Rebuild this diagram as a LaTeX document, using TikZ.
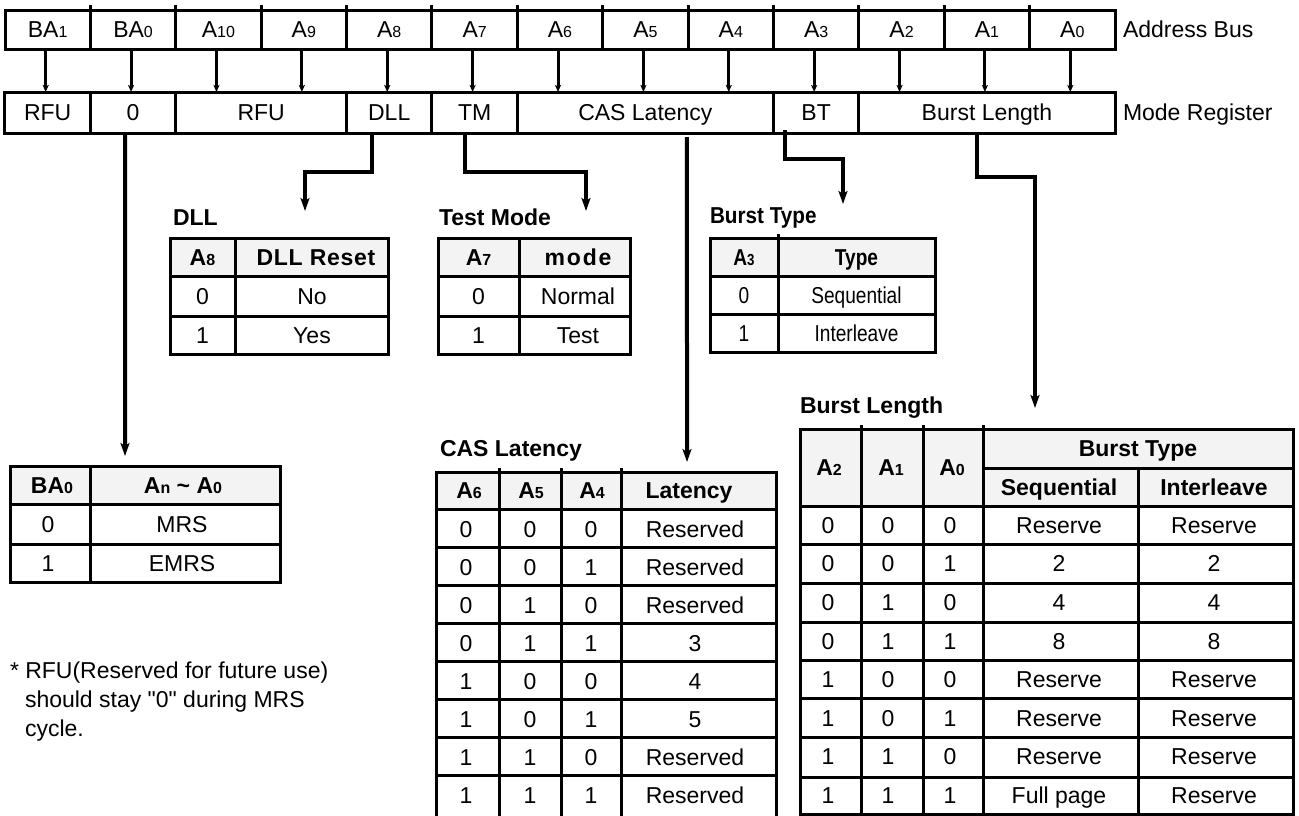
\documentclass[tikz,border=0pt]{standalone}
\usepackage{fontspec}
\setmainfont{Liberation Sans}[Ligatures=TeXOff]
\newfontfamily\narrowfont[FakeStretch=0.83,Ligatures=TeXOff]{Liberation Sans}
\newfontfamily\narrowtitlefont[FakeStretch=0.9,Ligatures=TeXOff]{Liberation Sans}
\usetikzlibrary{arrows.meta}
\newcommand{\sbs}[1]{{\fontsize{16}{16}\selectfont #1}}
\definecolor{hdrgray}{HTML}{F3F3F3}
\begin{document}
\begin{tikzpicture}[x=1pt,y=-1pt,
  every node/.style={inner sep=0pt, outer sep=0pt},
  txt/.style={font=\fontsize{23}{23}\selectfont, text height=16.5pt, text depth=0pt},
  btxt/.style={txt, font=\fontsize{23}{23}\selectfont\bfseries},
  ntxt/.style={txt, font=\fontsize{23}{23}\selectfont\narrowfont},
  nbtxt/.style={txt, font=\fontsize{23}{23}\selectfont\narrowfont\bfseries},
  busCell/.style={draw, line width=3pt, minimum height=39pt, minimum width=85.385pt, txt},
  modeCell/.style={draw, line width=3pt, minimum height=41pt, txt},
  busArrow/.style={line width=3pt, -{Stealth[length=7pt,width=6pt,inset=1.5pt]}},
  conn/.style={line width=4pt, -{Stealth[length=13pt,width=9pt,inset=3pt]}},
  tline/.style={line width=3pt},
  hdr/.style={fill=hdrgray},
  title/.style={font=\fontsize{23}{23}\selectfont\bfseries, anchor=base west},
  ntitle/.style={font=\fontsize{23}{23}\selectfont\narrowtitlefont\bfseries, anchor=base west},
  note/.style={font=\fontsize{23}{23}\selectfont, anchor=base west},
]
\useasboundingbox (0,0) rectangle (1299,815);

% ---------- Address bus ----------
\foreach \lab [count=\i from 0] in {BA\sbs{1},BA\sbs{0},A\sbs{10},A\sbs{9},A\sbs{8},A\sbs{7},A\sbs{6},A\sbs{5},A\sbs{4},A\sbs{3},A\sbs{2},A\sbs{1},A\sbs{0}}
  \node[busCell] (ab\i) at ({5+85.385*(\i+0.5)},29.5) {\lab};
\foreach \i in {0,...,11}
  \draw[tline] (ab\i.north east) -- ++(0,-5);
\node[txt, anchor=west] (busLabel) at (1123,29.5) {Address Bus};

% ---------- Mode register ----------
\node[modeCell, minimum width=85.385pt] (mr0) at (47.69,112.5) {RFU};
\node[modeCell, minimum width=85.385pt] (mrz) at (133.08,112.5) {0};
\node[modeCell, minimum width=170.77pt] (mr2) at (261.15,112.5) {RFU};
\node[modeCell, minimum width=85.385pt] (mdll) at (389.23,112.5) {DLL};
\node[modeCell, minimum width=85.385pt] (mtm) at (474.62,112.5) {TM};
\node[modeCell, minimum width=256.15pt] (mcas) at (645.38,112.5) {CAS Latency};
\node[modeCell, minimum width=85.385pt] (mbt) at (816.15,112.5) {BT};
\node[modeCell, minimum width=256.15pt] (mbl) at (986.92,112.5) {Burst Length};
\node[txt, anchor=west] (modeLabel) at (1123,112.5) {Mode Register};

\foreach \i in {0,...,12}
  \draw[busArrow] ([xshift=-2pt]ab\i.south) -- ([xshift=-2pt]ab\i.south |- mr0.north);

% ---------- connectors ----------
\coordinate (baEnd) at (125,456);
\coordinate (dllEnd) at (305,211);
\coordinate (tmEnd) at (586,211);
\coordinate (casEnd) at (687,462);
\coordinate (btEnd) at (843,204);
\coordinate (blEnd) at (1035,408);
\draw[conn] ([xshift=-8pt]mrz.south) -- (baEnd);
\draw[conn] ([xshift=-17pt]mdll.south) -- ++(0,39) -| (dllEnd);
\draw[conn] ([xshift=-9.6pt]mtm.south) -- ++(0,39) -| (tmEnd);
\draw[conn] ([xshift=41.6pt,yshift=-4pt]mcas.south) -- (casEnd);
\draw[conn] ([xshift=-31pt,yshift=3pt]mbt.south) -- ++(0,29) -| (btEnd);
\draw[conn] ([xshift=-10pt]mbl.south) -- ++(0,44) -| (blEnd);

% ---------- DLL table ----------
\node[title] (dllTitle) at (173,225) {DLL};
\fill[hdr] (170,238) rectangle (388,276);
\draw[tline] (170,238) rectangle (388,354);
\draw[tline] (170,276) -- (388,276) (170,316) -- (388,316) (235,238) -- (235,354);
\node[btxt] (dllH1) at (202.5,257) {A\sbs{8}};
\node[btxt] (dllH2) at (316,257) {\addfontfeatures{LetterSpace=3}DLL Reset};
\node[txt] (dllA0) at (202.5,296) {0};
\node[txt] (dllB0) at (312,296) {No};
\node[txt] (dllA1) at (202.5,335) {1};
\node[txt] (dllB1) at (312,335) {Yes};

% ---------- Test mode table ----------
\node[title] (tmTitle) at (439,225) {Test Mode};
\fill[hdr] (438,238) rectangle (630,276);
\draw[tline] (438,238) rectangle (630,354);
\draw[tline] (438,276) -- (630,276) (438,316) -- (630,316) (519,238) -- (519,354);
\node[btxt] (tmH1) at (478.5,257) {A\sbs{7}};
\node[btxt] (tmH2) at (578,257) {\addfontfeatures{LetterSpace=8}mode};
\node[txt] (tmA0) at (478.5,296) {0};
\node[txt] (tmB0) at (578,296) {Normal};
\node[txt] (tmA1) at (478.5,335) {1};
\node[txt] (tmB1) at (578,335) {Test};

% ---------- Burst type table ----------
\node[ntitle] (btTitle) at (710,223) {Burst Type};
\fill[hdr] (710,238) rectangle (935,276);
\draw[tline] (710,238) rectangle (935,352);
\draw[tline] (710,276) -- (935,276) (710,314) -- (935,314) (778,234) -- (778,352);
\node[nbtxt] (btH1) at (744,257) {A\sbs{3}};
\node[nbtxt] (btH2) at (856.5,257) {Type};
\node[ntxt] (btA0) at (744,295) {0};
\node[ntxt] (btB0) at (856.5,295) {Sequential};
\node[ntxt] (btA1) at (744,333) {1};
\node[ntxt] (btB1) at (856.5,333) {Interleave};

% ---------- BA0 table ----------
\fill[hdr] (10,466) rectangle (280,504);
\draw[tline] (10,466) rectangle (280,582);
\draw[tline] (10,504) -- (280,504) (10,544) -- (280,544) (90,466) -- (90,582);
\node[btxt] (baH1) at (52,485) {BA\sbs{0}};
\node[btxt] (baH2) at (183,485) {A\sbs{n} \textasciitilde{} A\sbs{0}};
\node[txt] (baA0) at (48,524) {0};
\node[txt] (baB0) at (182,524) {MRS};
\node[txt] (baA1) at (48,563) {1};
\node[txt] (baB1) at (182,563) {EMRS};

% ---------- footnote ----------
\node[note] (note1) at (10,678) {* RFU(Reserved for future use)};
\node[note] (note2) at (25,707) {should stay "0" during MRS};
\node[note] (note3) at (25,736) {cycle.};

% ---------- CAS latency table ----------
\node[title] (casTitle) at (440,456) {CAS Latency};
\fill[hdr] (436,472) rectangle (776,509);
\draw[tline] (436,816) -- (436,472) -- (776,472) -- (776,816);
\foreach \yy in {509,547,585,623,661,699,737,775}
  \draw[tline] (436,\yy) -- (776,\yy);
\foreach \xx in {499,561,621}
  \draw[tline] (\xx,468) -- (\xx,816);
\node[btxt] (casH1) at (469,490.5) {A\sbs{6}};
\node[btxt] (casH2) at (531,490.5) {A\sbs{5}};
\node[btxt] (casH3) at (592,490.5) {A\sbs{4}};
\node[btxt] (casH4) at (689,490.5) {Latency};
\foreach \a/\b/\c/\v [count=\r from 0] in {0/0/0/Reserved,0/0/1/Reserved,0/1/0/Reserved,0/1/1/3,1/0/0/4,1/0/1/5,1/1/0/Reserved,1/1/1/Reserved} {
  \node[txt] (casA\r) at (466,{529+38*\r}) {\a};
  \node[txt] (casB\r) at (530,{529+38*\r}) {\b};
  \node[txt] (casC\r) at (591,{529+38*\r}) {\c};
  \node[txt] (casD\r) at (695,{529+38*\r}) {\v};
}

% ---------- Burst length table ----------
\node[title] (blTitle) at (800,413) {Burst Length};
\fill[hdr] (800,429) rectangle (1293,506);
\draw[tline] (800,429) rectangle (1293,814);
\draw[tline] (983,468) -- (1293,468);
\foreach \yy in {506,544,583,622,660,698,737,777}
  \draw[tline] (800,\yy) -- (1293,\yy);
\foreach \xx in {861,923,983}
  \draw[tline] (\xx,425) -- (\xx,814);
\draw[tline] (1138,468) -- (1138,814);
\node[btxt] (blH1) at (829,467.5) {A\sbs{2}};
\node[btxt] (blH2) at (891,467.5) {A\sbs{1}};
\node[btxt] (blH3) at (952,467.5) {A\sbs{0}};
\node[btxt] (blH4) at (1138,448.5) {Burst Type};
\node[btxt] (blH5) at (1059,487) {Sequential};
\node[btxt] (blH6) at (1214,487) {Interleave};
\foreach \a/\b/\c/\s/\t [count=\r from 0] in {0/0/0/Reserve/Reserve,0/0/1/2/2,0/1/0/4/4,0/1/1/8/8,1/0/0/Reserve/Reserve,1/0/1/Reserve/Reserve,1/1/0/Reserve/Reserve,1/1/1/Full page/Reserve} {
  \node[txt] (blA\r) at (828,{525+38.6*\r}) {\a};
  \node[txt] (blB\r) at (888,{525+38.6*\r}) {\b};
  \node[txt] (blC\r) at (950,{525+38.6*\r}) {\c};
  \node[txt] (blD\r) at (1059,{525+38.6*\r}) {\s};
  \node[txt] (blE\r) at (1214,{525+38.6*\r}) {\t};
}
\end{tikzpicture}
\end{document}
